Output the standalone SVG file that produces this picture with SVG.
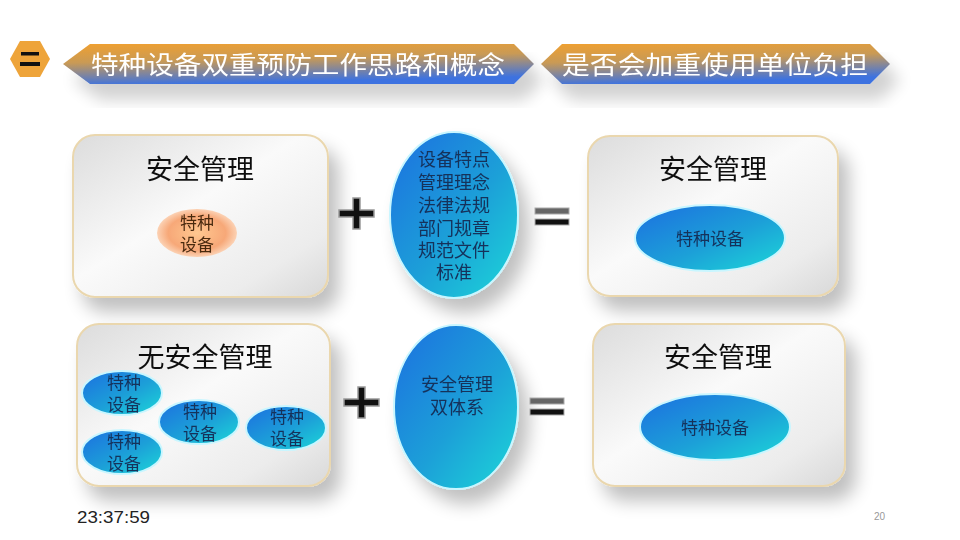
<svg xmlns="http://www.w3.org/2000/svg" width="960" height="540" viewBox="0 0 960 540">
<defs>
<linearGradient id="ban" x1="0" y1="0" x2="0.25" y2="1">
<stop offset="0" stop-color="#f0a030"/>
<stop offset="0.45" stop-color="#c99a55"/>
<stop offset="1" stop-color="#3d72e0"/>
</linearGradient>
<linearGradient id="box" x1="0" y1="0" x2="1" y2="1">
<stop offset="0" stop-color="#dcdcdc"/>
<stop offset="0.45" stop-color="#fafafa"/>
<stop offset="0.8" stop-color="#ececec"/>
<stop offset="1" stop-color="#d8d8d8"/>
</linearGradient>
<linearGradient id="blue" x1="0" y1="0" x2="1" y2="1">
<stop offset="0" stop-color="#1a6fe0"/>
<stop offset="0.55" stop-color="#1aa0d8"/>
<stop offset="1" stop-color="#20d8d8"/>
</linearGradient>
<radialGradient id="peach" cx="0.5" cy="0.5" r="0.6">
<stop offset="0" stop-color="#ffc890"/>
<stop offset="0.6" stop-color="#f7a878"/>
<stop offset="1" stop-color="#fff0e0"/>
</radialGradient>
<filter id="sh" x="-20%" y="-20%" width="150%" height="160%">
<feGaussianBlur in="SourceAlpha" stdDeviation="9"/>
<feOffset dx="10" dy="14"/>
<feComponentTransfer><feFuncA type="linear" slope="0.25"/></feComponentTransfer>
<feMerge><feMergeNode/><feMergeNode in="SourceGraphic"/></feMerge>
</filter>
<filter id="sh2" x="-20%" y="-20%" width="150%" height="180%">
<feGaussianBlur in="SourceAlpha" stdDeviation="8"/>
<feOffset dx="10" dy="16"/>
<feComponentTransfer><feFuncA type="linear" slope="0.18"/></feComponentTransfer>
<feMerge><feMergeNode/><feMergeNode in="SourceGraphic"/></feMerge>
</filter>
</defs>
<style>
.bx{fill:url(#box);stroke:#ead7ae;stroke-width:2}
.ttl{font-family:"Noto Sans CJK SC","Noto Sans",sans-serif;font-size:27px;fill:#111;text-anchor:middle}
.bt{font-family:"Noto Sans CJK SC","Noto Sans",sans-serif;font-size:25px;fill:#fff;text-anchor:start}
.el{fill:url(#blue);stroke:#c8f6ff;stroke-width:2}
.et{font-family:"Noto Sans CJK SC","Noto Sans",sans-serif;font-size:17px;fill:#16305a;text-anchor:middle}
.big{font-family:"Noto Sans CJK SC","Noto Sans",sans-serif;font-size:18px;fill:#16305a;text-anchor:middle}
.op{fill:#111;stroke:#999;stroke-width:1.5}
</style>
<rect width="960" height="540" fill="#fff"/>

<g id="badge">
<polygon points="20,41 40,41 50,59 40,77 20,77 10,59" fill="#eea43a"/>
<rect x="21" y="52" width="18" height="3.5" fill="#111"/>
<rect x="20" y="62" width="20" height="4" fill="#111"/>
</g>

<g id="banner1" filter="url(#sh2)">
<polygon points="63,64 90,44 514,44 534,64 514,84 90,84" fill="url(#ban)"/>
<text class="bt" x="91" y="74" textLength="414" lengthAdjust="spacingAndGlyphs">特种设备双重预防工作思路和概念</text>
</g>
<g id="banner2" filter="url(#sh2)">
<polygon points="541,64 562,44 870,44 890,64 870,84 562,84" fill="url(#ban)"/>
<text class="bt" x="562" y="74" textLength="306" lengthAdjust="spacingAndGlyphs">是否会加重使用单位负担</text>
</g>

<g id="box1" filter="url(#sh)">
<rect class="bx" x="73" y="135" width="255" height="162" rx="22"/>
<text class="ttl" x="200" y="179">安全管理</text>
<ellipse cx="197" cy="233" rx="40" ry="24" fill="url(#peach)"/>
<text class="et" x="197" y="229" style="fill:#4a2a10">特种</text>
<text class="et" x="197" y="251" style="fill:#4a2a10">设备</text>
</g>

<g id="plus1">
<path class="op" d="M353,198 h7 v12 h14 v7 h-14 v12 h-7 v-12 h-14 v-7 h14 z"/>
</g>

<g id="factors" filter="url(#sh)">
<ellipse class="el" cx="454" cy="215" rx="64" ry="83"/>
<text class="big" x="454" y="166">设备特点</text>
<text class="big" x="454" y="189">管理理念</text>
<text class="big" x="454" y="212">法律法规</text>
<text class="big" x="454" y="235">部门规章</text>
<text class="big" x="454" y="257">规范文件</text>
<text class="big" x="454" y="279">标准</text>
</g>

<g id="eq1">
<rect x="535" y="208" width="34" height="6" fill="#666" stroke="#aaa"/>
<rect x="535" y="219" width="34" height="6" fill="#111" stroke="#aaa"/>
</g>

<g id="box3" filter="url(#sh)">
<rect class="bx" x="588" y="136" width="250" height="160" rx="22"/>
<text class="ttl" x="713" y="179">安全管理</text>
<ellipse class="el" cx="710" cy="238" rx="75" ry="33"/>
<text class="et" x="710" y="245">特种设备</text>
</g>

<g id="box4" filter="url(#sh)">
<rect class="bx" x="77" y="324" width="253" height="162" rx="22"/>
<text class="ttl" x="205" y="367">无安全管理</text>
<ellipse class="el" cx="122" cy="393" rx="40" ry="22"/>
<text class="et" x="124" y="389">特种</text>
<text class="et" x="124" y="411">设备</text>
<ellipse class="el" cx="199" cy="422" rx="40" ry="22"/>
<text class="et" x="200" y="418">特种</text>
<text class="et" x="200" y="440">设备</text>
<ellipse class="el" cx="286" cy="428" rx="40" ry="22"/>
<text class="et" x="287" y="423">特种</text>
<text class="et" x="287" y="445">设备</text>
<ellipse class="el" cx="122" cy="452" rx="40" ry="22"/>
<text class="et" x="124" y="448">特种</text>
<text class="et" x="124" y="470">设备</text>
</g>

<g id="plus2">
<path class="op" d="M358,387 h7 v12 h14 v7 h-14 v12 h-7 v-12 h-14 v-7 h14 z"/>
</g>

<g id="dual" filter="url(#sh)">
<ellipse class="el" cx="456" cy="407" rx="62" ry="82"/>
<text class="big" x="457" y="391">安全管理</text>
<text class="big" x="457" y="414">双体系</text>
</g>

<g id="eq2">
<rect x="530" y="398" width="34" height="6" fill="#666" stroke="#aaa"/>
<rect x="530" y="409" width="34" height="6" fill="#111" stroke="#aaa"/>
</g>

<g id="box6" filter="url(#sh)">
<rect class="bx" x="593" y="324" width="252" height="162" rx="22"/>
<text class="ttl" x="718" y="367">安全管理</text>
<ellipse class="el" cx="715" cy="427" rx="75" ry="33"/>
<text class="et" x="715" y="434">特种设备</text>
</g>

<text x="77" y="523" font-family="Liberation Sans, sans-serif" font-size="17" fill="#222" textLength="73" lengthAdjust="spacingAndGlyphs">23:37:59</text>
<text x="874" y="520" font-family="Liberation Sans, sans-serif" font-size="10" fill="#999">20</text>
</svg>
